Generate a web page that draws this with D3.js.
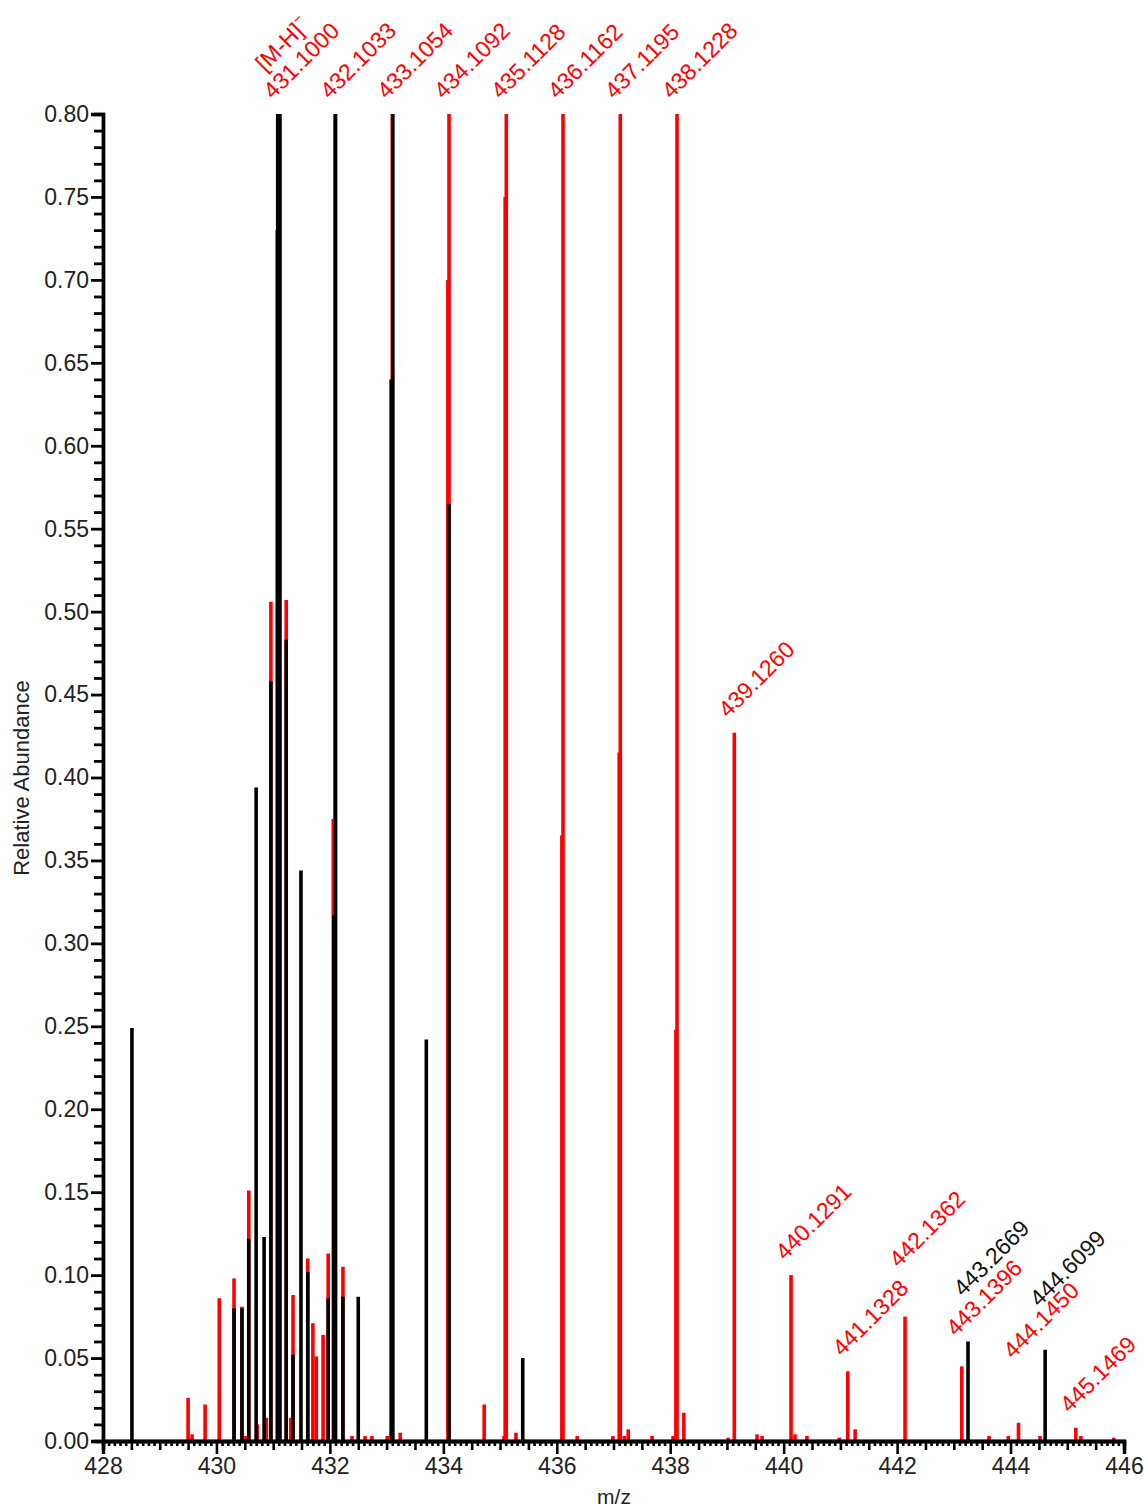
<!DOCTYPE html>
<html>
<head>
<meta charset="utf-8">
<script src="https://cdn.jsdelivr.net/npm/d3@7"></script>
<style>
  html, body { margin: 0; padding: 0; background: #fff; }
  svg { display: block; font-family: "Liberation Sans", Arial, sans-serif; }
</style>
</head>
<body>
<svg id="chart" width="1147" height="1511"></svg>
<script>
// ---------- data (m/z, relative abundance) ----------
const redPeaks = [
  [429.50, 0.026], [429.57, 0.004], [429.80, 0.022], [430.05, 0.086], [430.31, 0.098],
  [430.45, 0.081], [430.52, 0.003], [430.57, 0.151], [430.72, 0.010], [430.88, 0.014],
  [430.96, 0.506], [431.07, 0.730], [431.10, 0.800], [431.23, 0.507], [431.31, 0.014],
  [431.35, 0.088], [431.61, 0.110], [431.70, 0.071], [431.76, 0.051], [431.88, 0.064],
  [431.97, 0.113], [432.06, 0.375], [432.09, 0.800], [432.23, 0.105], [432.39, 0.003],
  [432.62, 0.003], [432.74, 0.003], [433.01, 0.003], [433.10, 0.800], [433.24, 0.005],
  [434.08, 0.700], [434.10, 0.800], [434.72, 0.022], [435.07, 0.003], [435.09, 0.750],
  [435.11, 0.800], [435.28, 0.005], [436.09, 0.365], [436.11, 0.800], [436.36, 0.003],
  [436.99, 0.003], [437.10, 0.415], [437.12, 0.800], [437.19, 0.003], [437.26, 0.007],
  [437.68, 0.003], [438.05, 0.003], [438.10, 0.248], [438.12, 0.800], [438.24, 0.017],
  [439.02, 0.002], [439.13, 0.427], [439.53, 0.004], [439.62, 0.003], [440.13, 0.100],
  [440.20, 0.004], [440.41, 0.003], [440.98, 0.002], [441.13, 0.042], [441.26, 0.007],
  [442.14, 0.075], [443.14, 0.045], [443.62, 0.003], [443.96, 0.003], [444.14, 0.011],
  [444.52, 0.003], [445.15, 0.008], [445.24, 0.003], [445.82, 0.002]
];
const blackPeaks = [
  [428.51, 0.249], [430.31, 0.080], [430.45, 0.080], [430.57, 0.122], [430.70, 0.394],
  [430.84, 0.123], [430.96, 0.458], [431.08, 0.800], [431.12, 0.800], [431.23, 0.483],
  [431.35, 0.052], [431.49, 0.344], [431.61, 0.102], [431.97, 0.086], [432.07, 0.317],
  [432.10, 0.800], [432.23, 0.087], [432.50, 0.087], [433.08, 0.640], [433.11, 0.800],
  [433.70, 0.242], [434.10, 0.565], [435.40, 0.050], [443.25, 0.060], [444.61, 0.055]
];
const redLabels = ["431.1000", "432.1033", "433.1054", "434.1092", "435.1128", "436.1162",
  "437.1195", "438.1228", "439.1260", "440.1291", "441.1328", "442.1362", "443.1396",
  "444.1450", "445.1469"];
const blackLabels = ["443.2669", "444.6099"];
const ionLabel = "[M-H]";
const yTickValues = [0, 0.05, 0.10, 0.15, 0.20, 0.25, 0.30, 0.35, 0.40, 0.45, 0.50, 0.55, 0.60, 0.65, 0.70, 0.75, 0.80];
const xTickValues = [428, 430, 432, 434, 436, 438, 440, 442, 444, 446];
const xTitle = "m/z";
const yTitle = "Relative Abundance";

// ---------- layout ----------
const svg = d3.select("#chart");
const x = d3.scaleLinear().domain([428, 446]).range([103, 1124]);
const y = d3.scaleLinear().domain([0, 0.8]).range([1441, 114]);
const RED = "#ff0000", BLACK = "#000000";
const FONT = 23;

// bars
function drawPeaks(data, color) {
  svg.append("g").selectAll("line").data(data).join("line")
    .attr("x1", d => x(d[0])).attr("x2", d => x(d[0]))
    .attr("y1", y(0)).attr("y2", d => y(Math.min(d[1], 0.8)))
    .attr("stroke", color).attr("stroke-width", 3.6);
}
drawPeaks(redPeaks, RED);
drawPeaks(blackPeaks, BLACK);

// y axis
const yMinor = d3.range(0, 80.5, 1).map(v => v / 100).filter(v => !yTickValues.some(t => Math.abs(t - v) < 1e-9));
const gyMinor = svg.append("g").attr("transform", `translate(${x(428)},0)`)
  .call(d3.axisLeft(y).tickValues(yMinor).tickSize(9).tickFormat(""));
const gy = svg.append("g").attr("transform", `translate(${x(428)},0)`)
  .call(d3.axisLeft(y).tickValues(yTickValues).tickSize(12).tickPadding(2).tickFormat(d3.format(".2f")));
[gy, gyMinor].forEach(g => {
  g.selectAll(".tick line").attr("stroke", BLACK).attr("stroke-width", 2.8);
  g.select(".domain").attr("stroke", BLACK).attr("stroke-width", 3.4);
});
gy.selectAll(".tick text").attr("font-size", FONT).attr("fill", "#222")
  .attr("font-family", "Liberation Sans, Arial, sans-serif");

// x axis
const xMinor = d3.range(4280, 4461, 1).map(v => v / 10).filter(v => Math.abs(v * 2 - Math.round(v * 2)) > 1e-6);
const xMed = d3.range(856, 893, 1).map(v => v / 2).filter(v => !xTickValues.includes(v));
const gxMinor = svg.append("g").attr("transform", `translate(0,${y(0)})`)
  .call(d3.axisBottom(x).tickValues(xMinor).tickSize(5).tickFormat(""));
const gxMed = svg.append("g").attr("transform", `translate(0,${y(0)})`)
  .call(d3.axisBottom(x).tickValues(xMed).tickSize(9).tickFormat(""));
const gx = svg.append("g").attr("transform", `translate(0,${y(0)})`)
  .call(d3.axisBottom(x).tickValues(xTickValues).tickSize(13).tickPadding(4).tickFormat(d3.format("d")));
[gx, gxMed, gxMinor].forEach(g => {
  g.selectAll(".tick line").attr("stroke", BLACK).attr("stroke-width", 2.6);
  g.select(".domain").attr("stroke", BLACK).attr("stroke-width", 3.4);
});
gx.selectAll(".tick text").attr("font-size", FONT).attr("fill", "#222")
  .attr("font-family", "Liberation Sans, Arial, sans-serif");

// axis titles
svg.append("text").attr("x", 614).attr("y", 1504).attr("text-anchor", "middle")
  .attr("font-size", 21).attr("fill", "#222").text(xTitle);
svg.append("text").attr("transform", "translate(29,778) rotate(-90)").attr("text-anchor", "middle")
  .attr("font-size", 22).attr("fill", "#222").text(yTitle);

// peak labels
const lift = { "442.1362": 34, "443.1396": 15, "443.2669": 30, "444.1450": 49, "444.6099": 28 };
function peakTop(data, mz) {
  const near = data.filter(d => Math.abs(d[0] - mz) < 0.06);
  return d3.max(near, d => Math.min(d[1], 0.8));
}
function drawLabels(labels, data, color) {
  labels.forEach(t => {
    const mz = +t;
    const ax = x(mz) - 6;
    const ay = y(peakTop(data, mz)) - 14 - (lift[t] || 0);
    const g = svg.append("g").attr("transform", `translate(${ax},${ay}) rotate(-45)`);
    g.append("text").attr("font-size", FONT).attr("fill", color).text(t);
    if (t === "431.1000") {
      const ion = g.append("text").attr("x", 14).attr("y", -25).attr("font-size", FONT).attr("fill", color);
      ion.append("tspan").text(ionLabel);
      ion.append("tspan").attr("dy", -10).attr("font-size", 15).text("\u2212");
    }
  });
}
drawLabels(redLabels, redPeaks, RED);
drawLabels(blackLabels, blackPeaks, "#111");
</script>
</body>
</html>
